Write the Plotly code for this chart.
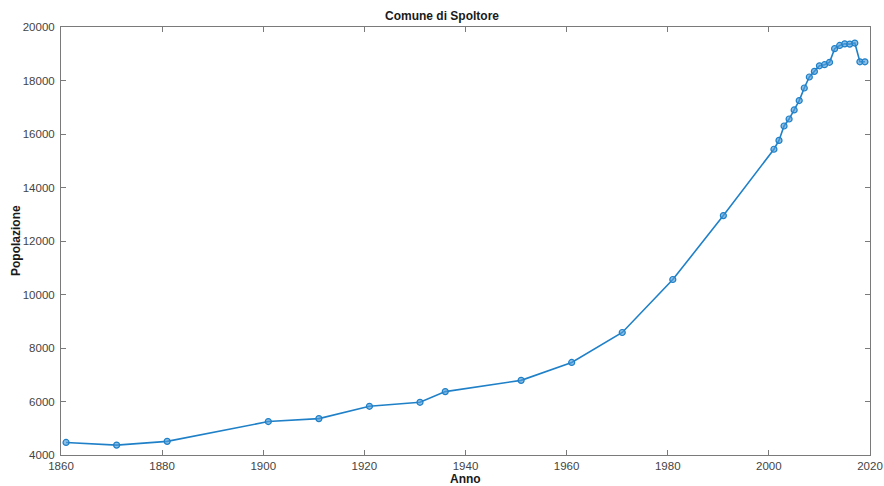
import plotly.graph_objects as go

anni = [1861, 1871, 1881, 1901, 1911, 1921, 1931, 1936, 1951, 1961, 1971, 1981, 1991,
        2001, 2002, 2003, 2004, 2005, 2006, 2007, 2008, 2009, 2010, 2011, 2012,
        2013, 2014, 2015, 2016, 2017, 2018, 2019]
popolazione = [4470, 4370, 4510, 5250, 5360, 5820, 5970, 6370, 6790, 7460, 8580, 10560, 12950,
               15430, 15760, 16300, 16560, 16900, 17250, 17720, 18130, 18340, 18550, 18590, 18680,
               19190, 19310, 19370, 19360, 19400, 18700, 18700]

x_ticks = [1860, 1880, 1900, 1920, 1940, 1960, 1980, 2000, 2020]
y_ticks = [4000, 6000, 8000, 10000, 12000, 14000, 16000, 18000, 20000]
y_tick_labels = ["4000", "6000", "8000", "10000", "12000", "14000", "16000", "18000", "20000"]

blue = "#1f80c8"
axis_col = "#7a7a7a"
font_fam = "Liberation Sans, Arial, sans-serif"
title_font = dict(family=font_fam, size=12, color="#1a1a1a")

L, R, T, B = 61, 14, 27, 31
W, H = 884, 486
pw, ph = W - L - R, H - T - B

fig = go.Figure()
fig.add_trace(go.Scatter(
    x=anni, y=popolazione, mode="lines+markers",
    line=dict(color=blue, width=1.6),
    marker=dict(symbol="circle", size=6, color="rgba(80,155,215,0.65)",
                line=dict(color=blue, width=1.2)),
    showlegend=False,
))

axis_common = dict(
    showgrid=False, zeroline=False, showline=True, linecolor=axis_col, linewidth=1,
    mirror="ticks", ticks="inside", ticklen=5, tickcolor=axis_col, automargin=False,
    tickfont=dict(family=font_fam, size=11.5, color="#444444"),
)

fig.update_layout(
    width=W, height=H,
    margin=dict(l=L, r=R, t=T, b=B),
    paper_bgcolor="white", plot_bgcolor="white",
    title=dict(text="<b>Comune di Spoltore</b>", x=0.5, xanchor="center",
               y=1 - 16/H, yanchor="middle", font=title_font),
    xaxis=dict(range=[1860, 2020], tickvals=x_ticks, **axis_common),
    yaxis=dict(range=[4000, 20000], tickvals=y_ticks, ticktext=y_tick_labels,
               ticklabelstandoff=3, **axis_common),
    annotations=[
        dict(text="<b>Anno</b>", xref="paper", yref="paper", x=0.5,
             y=-(478.5 - (H - B)) / ph, xanchor="center", yanchor="middle",
             showarrow=False, font=title_font),
        dict(text="<b>Popolazione</b>", xref="paper", yref="paper",
             x=(16 - L) / pw, y=0.5, xanchor="center", yanchor="middle",
             textangle=-90, showarrow=False, font=title_font),
    ],
)

fig.write_html("out.html", config={"displayModeBar": False},
               post_script="document.body.style.margin='0';")
